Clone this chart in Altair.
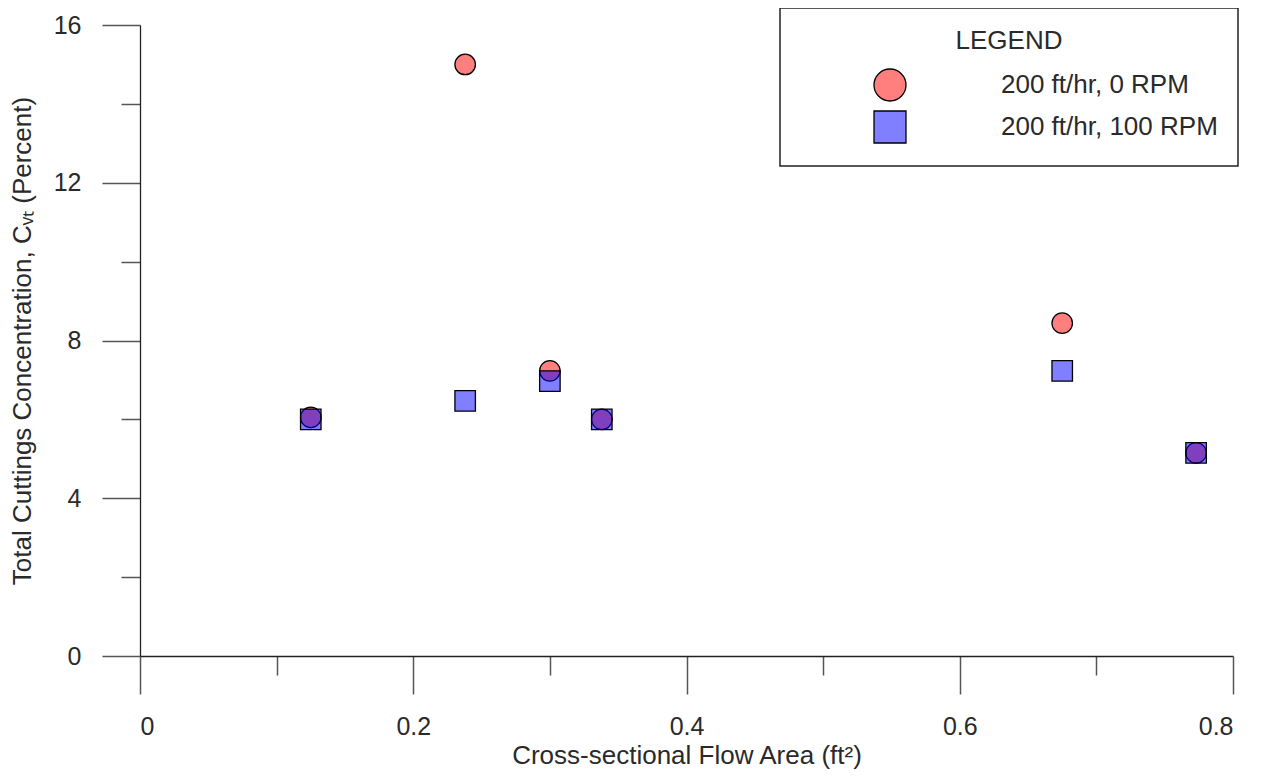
import altair as alt
import pandas as pd

series_names = ["200 ft/hr, 0 RPM", "200 ft/hr, 100 RPM"]
flow_area = [0.125, 0.238, 0.300, 0.338, 0.675, 0.773]
conc_0rpm = [6.05, 15.0, 7.23, 6.0, 8.44, 5.15]
conc_100rpm = [6.0, 6.47, 6.97, 6.0, 7.23, 5.15]

x_ticks = [0, 0.1, 0.2, 0.3, 0.4, 0.5, 0.6, 0.7, 0.8]
y_ticks = [0, 2, 4, 6, 8, 10, 12, 14, 16]

rows = []
for a, c in zip(flow_area, conc_0rpm):
    rows.append({"area": a, "conc": c, "series": series_names[0]})
for a, c in zip(flow_area, conc_100rpm):
    rows.append({"area": a, "conc": c, "series": series_names[1]})
df = pd.DataFrame(rows)

FONT = "Liberation Sans"
TXT = "#2a2a2a"

x_major = "round(datum.value * 10) % 2 == 0"
y_major = "datum.value % 4 == 0"

chart = alt.Chart(df).mark_point(
    filled=True, size=420, opacity=1,
    stroke="black", strokeWidth=1.3
).encode(
    x=alt.X("area:Q", scale=alt.Scale(domain=[0, 0.8], nice=False, zero=False),
            axis=alt.Axis(values=x_ticks, format="~g",
                          labelExpr=f"{x_major} ? datum.label : ''",
                          tickSize={"condition": {"test": x_major, "value": 38}, "value": 19},
                          labelPadding=20, labelFontSize=25,
                          title="Cross-sectional Flow Area (ft²)",
                          titleFontSize=26, titleBaseline="alphabetic", titleY=107)),
    y=alt.Y("conc:Q", scale=alt.Scale(domain=[0, 16], nice=False),
            axis=alt.Axis(values=y_ticks, format="~g",
                          labelExpr=f"{y_major} ? datum.label : ''",
                          tickSize={"condition": {"test": y_major, "value": 38}, "value": 19},
                          labelPadding=21, labelFontSize=25,
                          title="Total Cuttings Concentration, Cᵥₜ (Percent)",
                          titleFontSize=26, titleBaseline="alphabetic", titleX=-110)),
    color=alt.Color("series:N",
                    scale=alt.Scale(domain=series_names,
                                    range=["rgba(255,0,0,0.5)", "rgba(0,0,255,0.5)"]),
                    legend=alt.Legend(title="LEGEND")),
    shape=alt.Shape("series:N",
                    scale=alt.Scale(domain=series_names, range=["circle", "square"]),
                    legend=alt.Legend(title="LEGEND")),
).properties(
    width=1093, height=631,
    autosize=alt.AutoSizeParams(type="none"),
    padding={"left": 132, "top": 17, "right": 22, "bottom": 113},
).configure(
    font=FONT
).configure_view(
    stroke=None
).configure_axis(
    grid=False, domainColor="#222", domainWidth=1.3,
    tickColor="#555", tickWidth=1.5,
    labelColor=TXT, titleColor=TXT, labelFont=FONT, titleFont=FONT,
    titleFontWeight="normal",
).configure_legend(
    orient="none", legendX=640, legendY=-17,
    padding=20, strokeColor="#222", strokeWidth=1.5, fillColor="white",
    titleFontSize=26, titleFontWeight="normal", titleColor=TXT, titleAnchor="middle",
    titlePadding=14, titleFont=FONT,
    labelFontSize=26, labelColor=TXT, labelFont=FONT, labelLimit=500,
    labelOffset=94, symbolOffset=73, symbolSize=1024, rowPadding=4,
    symbolStrokeColor="black", symbolStrokeWidth=1.3,
)

chart.save("out.html", embed_options={"renderer": "svg", "actions": False})
